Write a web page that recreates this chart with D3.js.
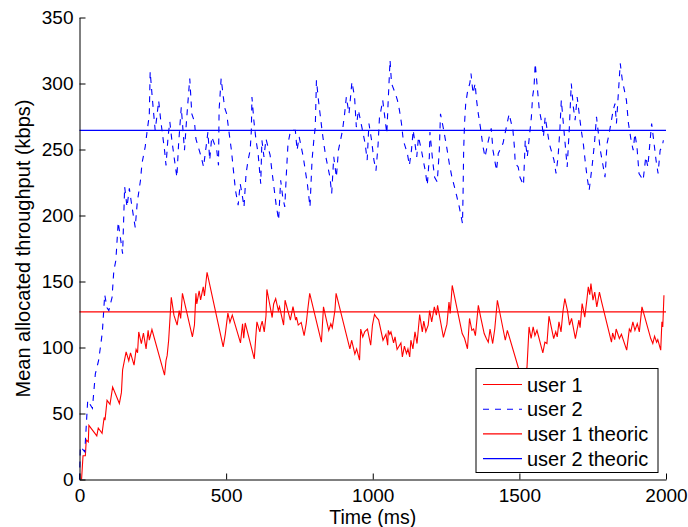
<!DOCTYPE html>
<html>
<head>
<meta charset="utf-8">
<script src="https://cdn.jsdelivr.net/npm/d3@7.9.0/dist/d3.min.js"></script>
<style>
  body { margin: 0; background: #fff; }
  svg { display: block; font-family: "Liberation Sans", Arial, Helvetica, sans-serif; }
  .axis path, .axis line { stroke: #000; }
  .axis text { font-size: 19px; fill: #000; }
</style>
</head>
<body>
<svg id="chart" width="688" height="527"></svg>
<script>
// user 1 (red, solid) - time in ms and mean throughput in kbps
const user1Time = [
  7, 12, 20, 23, 30, 32, 59, 64, 77, 84, 87, 94, 104, 113, 136, 143, 147, 159, 168, 174,
  186, 193, 198, 202, 211, 218, 227, 234, 238, 247, 290, 295, 299, 304, 313, 322, 333, 340, 345, 351,
  385, 392, 397, 400, 408, 413, 422, 426, 435, 490, 497, 506, 513, 521, 549, 556, 560, 565, 596, 601,
  605, 615, 618, 623, 630, 636, 639, 646, 657, 662, 669, 678, 682, 696, 701, 719, 728, 737, 740, 746,
  756, 766, 773, 778, 785, 825, 832, 850, 857, 862, 871, 875, 922, 928, 939, 945, 955, 959, 966, 973,
  982, 993, 999, 1006, 1012, 1020, 1035, 1045, 1051, 1053, 1058, 1062, 1071, 1076, 1083, 1096, 1101, 1108, 1115, 1120,
  1126, 1130, 1137, 1144, 1151, 1160, 1169, 1174, 1181, 1189, 1194, 1201, 1210, 1217, 1221, 1241, 1253, 1260, 1264, 1271,
  1305, 1313, 1323, 1330, 1338, 1344, 1350, 1360, 1368, 1380, 1387, 1394, 1400, 1409, 1416, 1425, 1452, 1459, 1500, 1515,
  1526, 1533, 1540, 1547, 1553, 1560, 1580, 1587, 1594, 1601, 1617, 1624, 1629, 1635, 1642, 1649, 1655, 1664, 1671, 1678,
  1691, 1703, 1707, 1714, 1723, 1730, 1735, 1740, 1744, 1751, 1757, 1764, 1773, 1780, 1814, 1818, 1825, 1830, 1841, 1848,
  1866, 1875, 1880, 1887, 1894, 1902, 1909, 1918, 1948, 1955, 1961, 1968, 1972, 1982, 1986, 1989, 1993
];
const user1Values = [
  0, 18, 18, 30, 28.5, 41, 33, 39, 35, 47, 45, 60, 57, 70, 57.6, 66, 83, 96.7, 90, 96,
  86.6, 98.5, 96, 111.8, 103, 111, 99, 113, 105.5, 113.6, 79, 90, 94, 105.5, 138, 124.5, 117, 128, 122, 141,
  108, 117, 141, 133, 143, 136, 146, 139, 157, 100.5, 110, 126, 119, 124.5, 103.5, 118, 107, 118.6, 91.4, 107.6,
  119.4, 111.8, 116, 120, 111.8, 124, 144, 135.8, 122.7, 133, 137, 128, 131, 117, 135.8, 120.7, 131, 120.7, 123, 117,
  119, 109, 118, 128, 141, 104, 130.8, 113, 118, 115, 128, 141, 99, 105.5, 95, 99, 90.4, 114, 108, 112,
  114, 101.7, 117, 125, 123, 121, 105.5, 110, 101.7, 113, 110, 111.8, 103.5, 108, 98.5, 103.5, 92.9, 101, 95.4, 99,
  92.9, 105.5, 99, 111.8, 103, 125, 111.8, 120, 112, 117, 128, 119.4, 130.8, 124.5, 132, 107.6, 117.7, 134.5, 125.8, 147,
  110.6, 107, 99, 122, 113, 114, 109, 132, 123, 110.6, 107, 104, 114, 103, 114, 135.8, 105.5, 113, 82, 78,
  85, 115.6, 106.8, 115.6, 109, 113, 96, 104, 103, 123.7, 106.8, 112, 108, 119.4, 111.8, 128, 137, 128, 117, 122,
  106.8, 120.7, 115, 133.3, 123, 135.8, 146, 140, 148.5, 135.8, 142, 130.8, 142, 135, 104, 111, 106, 114, 106.8, 110,
  98, 114, 112, 119.4, 113, 118, 111.8, 130.8, 106.8, 103, 108.6, 104, 106, 98, 119.4, 115.6, 139.6
];

// user 2 (blue, dashed)
const user2Time = [
  0, 3, 18, 28, 33, 44, 54, 65, 73, 78, 86, 94, 100, 111, 117, 124, 132, 139, 147, 154,
  162, 170, 179, 190, 197, 208, 213, 224, 231, 238, 241, 249, 258, 265, 270, 277, 290, 295, 302, 308,
  315, 324, 332, 338, 347, 358, 365, 372, 376, 383, 392, 397, 415, 423, 431, 438, 444, 451, 468, 474,
  476, 483, 492, 496, 502, 509, 518, 525, 532, 541, 548, 554, 561, 568, 575, 582, 586, 588, 595, 602,
  609, 618, 622, 629, 636, 650, 656, 663, 670, 679, 686, 693, 700, 706, 711, 720, 736, 742, 749, 763,
  770, 777, 786, 793, 799, 804, 808, 815, 827, 833, 840, 854, 860, 867, 876, 883, 897, 904, 910, 919,
  929, 938, 944, 951, 965, 974, 981, 987, 996, 1004, 1011, 1018, 1023, 1027, 1034, 1048, 1052, 1059, 1064, 1077,
  1084, 1091, 1098, 1104, 1118, 1125, 1132, 1138, 1150, 1156, 1166, 1172, 1179, 1186, 1193, 1195, 1204, 1211, 1220, 1227,
  1231, 1240, 1252, 1261, 1270, 1276, 1286, 1295, 1306, 1308, 1310, 1313, 1317, 1324, 1331, 1335, 1342, 1349, 1354, 1360,
  1367, 1376, 1383, 1392, 1404, 1410, 1422, 1428, 1444, 1451, 1465, 1478, 1483, 1486, 1496, 1502, 1514, 1520, 1527, 1534,
  1541, 1545, 1550, 1554, 1561, 1568, 1577, 1582, 1588, 1595, 1602, 1618, 1625, 1632, 1638, 1643, 1656, 1663, 1670, 1677,
  1684, 1690, 1697, 1704, 1711, 1718, 1724, 1731, 1738, 1749, 1756, 1763, 1776, 1786, 1792, 1799, 1806, 1813, 1820, 1826,
  1831, 1844, 1851, 1858, 1865, 1872, 1881, 1888, 1894, 1901, 1908, 1922, 1931, 1938, 1944, 1951, 1958, 1966, 1973, 1980,
  1987, 1991
];
const user2Values = [
  0, 25, 21, 60, 58, 54, 80, 90, 103, 112, 140, 130, 128, 138, 158, 166, 195, 184, 171, 221.7,
  206.5, 220.5, 206.5, 191, 210, 226.7, 239.4, 252, 264.6, 276, 309, 287, 264.6, 277, 287, 272, 249.5, 238, 259.6, 271,
  257, 242, 229, 254.5, 282, 249.5, 272, 292.4, 303.8, 277, 271, 258, 244.4, 236.8, 250.8, 263.3, 242, 259.6, 249.5, 238,
  279.8, 303.8, 287, 281, 277, 264.6, 249.5, 234, 219, 207.8, 224, 216.7, 206.5, 231.8, 242, 249.5, 264.6, 289.8, 271, 257,
  247, 224, 257, 244.4, 258, 245.7, 234, 221.7, 209, 196.4, 226.7, 214, 206.5, 234, 254.5, 264.6, 264.6, 249.5, 259.6, 244.4,
  234, 224, 206.5, 242, 257, 267, 302.5, 287, 264.6, 254.5, 244.4, 229, 216.7, 244.4, 229, 249.5, 264.6, 277, 289.8, 277,
  301.2, 289.8, 267, 279.8, 264.6, 254.5, 242, 269.7, 257, 242, 234, 253, 274.7, 278.5, 287.4, 262, 283.6, 317.7, 300, 292.4,
  287.4, 279.8, 269.7, 257, 247, 238, 249.5, 264.6, 244.4, 259.6, 249.5, 242, 234, 223, 244.4, 263.3, 242, 229, 225.4, 249.5,
  277, 267, 252, 239.4, 229, 224, 215, 206.5, 194, 216.7, 249.5, 269.7, 284.8, 294.9, 300, 307.6, 292.4, 300, 287.4, 277,
  267, 252, 244.4, 254.5, 266, 249.5, 234, 247, 254.5, 262, 277, 264.6, 252, 239.4, 236.8, 229, 223, 257, 244.4, 259.6,
  274.7, 289.8, 297.4, 315.2, 297.4, 279.8, 269.7, 259.6, 274.7, 264.6, 254.5, 242, 231.8, 244.4, 264.6, 287.4, 254.5, 236.8, 264.6, 300,
  282.3, 272.2, 289.8, 277, 264.6, 254.5, 242, 229, 219, 239.4, 254.5, 274.7, 249.5, 236.8, 229, 254.5, 262, 271, 279.8, 284.8,
  269.7, 315.2, 302.5, 294.9, 287.4, 269.7, 257, 249.5, 262, 252, 231.8, 226.7, 244.4, 236.8, 252, 269.7, 257, 242, 231.8, 249.5,
  252, 257
];

// theoretical allocations (kbps)
const user1Theoric = 127;
const user2Theoric = 264.5;

const xTicks = [0, 500, 1000, 1500, 2000];
const yTicks = [0, 50, 100, 150, 200, 250, 300, 350];
const legendLabels = ['user 1', 'user 2', 'user 1 theoric', 'user 2 theoric'];
const legendColors = ['#ff0000', '#0000ff', '#ff0000', '#0000ff'];
const legendDash = [null, '6,6', null, null];

const svg = d3.select('#chart');

const x = d3.scaleLinear().domain([0, 2000]).range([79.5, 666]);
const y = d3.scaleLinear().domain([0, 350]).range([479.5, 17.5]);

const user1 = user1Time.map((t, i) => [t, user1Values[i]]);
const user2 = user2Time.map((t, i) => [t, user2Values[i]]);

const line = d3.line().x((d) => x(d[0])).y((d) => y(d[1]));

svg.append('path')
  .datum(user1)
  .attr('d', line)
  .attr('fill', 'none')
  .attr('stroke', '#ff0000')
  .attr('stroke-width', 1.1);

svg.append('path')
  .datum(user2)
  .attr('d', line)
  .attr('fill', 'none')
  .attr('stroke', '#0000ff')
  .attr('stroke-width', 1.1)
  .attr('stroke-dasharray', '6,6');

[[user1Theoric, '#ff0000'], [user2Theoric, '#0000ff']].forEach(([v, c]) => {
  svg.append('path')
    .datum([[0, v], [2000, v]])
    .attr('d', line)
    .attr('fill', 'none')
    .attr('stroke', c)
    .attr('stroke-width', 1.1);
});

// axes (matlab style: ticks inside, no box)
svg.append('g')
  .attr('class', 'axis')
  .attr('transform', `translate(0,${y(0)})`)
  .call(d3.axisBottom(x).tickValues(xTicks).tickSize(-6).tickSizeOuter(0).tickPadding(9.5).tickFormat(d3.format('d')));

svg.append('g')
  .attr('class', 'axis')
  .attr('transform', `translate(${x(0)},0)`)
  .call(d3.axisLeft(y).tickValues(yTicks).tickSize(-6).tickSizeOuter(0).tickPadding(6).tickFormat(d3.format('d')));

svg.selectAll('.axis').attr('font-family', null).attr('font-size', null);

svg.append('text')
  .attr('x', (x(0) + x(2000)) / 2)
  .attr('y', 524)
  .attr('text-anchor', 'middle')
  .attr('font-size', 19.5)
  .text('Time (ms)');

svg.append('text')
  .attr('transform', `translate(30,${(y(0) + y(350)) / 2}) rotate(-90)`)
  .attr('text-anchor', 'middle')
  .attr('font-size', 20)
  .text('Mean allocated throughput (kbps)');

// legend
const legend = svg.append('g').attr('transform', 'translate(476,368.5)');
legend.append('rect')
  .attr('width', 182)
  .attr('height', 104)
  .attr('fill', '#fff')
  .attr('stroke', '#000');

legendLabels.forEach((label, i) => {
  const ly = 16 + i * 24.7;
  legend.append('line')
    .attr('x1', 7).attr('x2', 46)
    .attr('y1', ly).attr('y2', ly)
    .attr('stroke', legendColors[i])
    .attr('stroke-width', 1.1)
    .attr('stroke-dasharray', legendDash[i]);
  legend.append('text')
    .attr('x', 51)
    .attr('y', ly)
    .attr('dy', '0.35em')
    .attr('font-size', 20)
    .text(label);
});
</script>
</body>
</html>
